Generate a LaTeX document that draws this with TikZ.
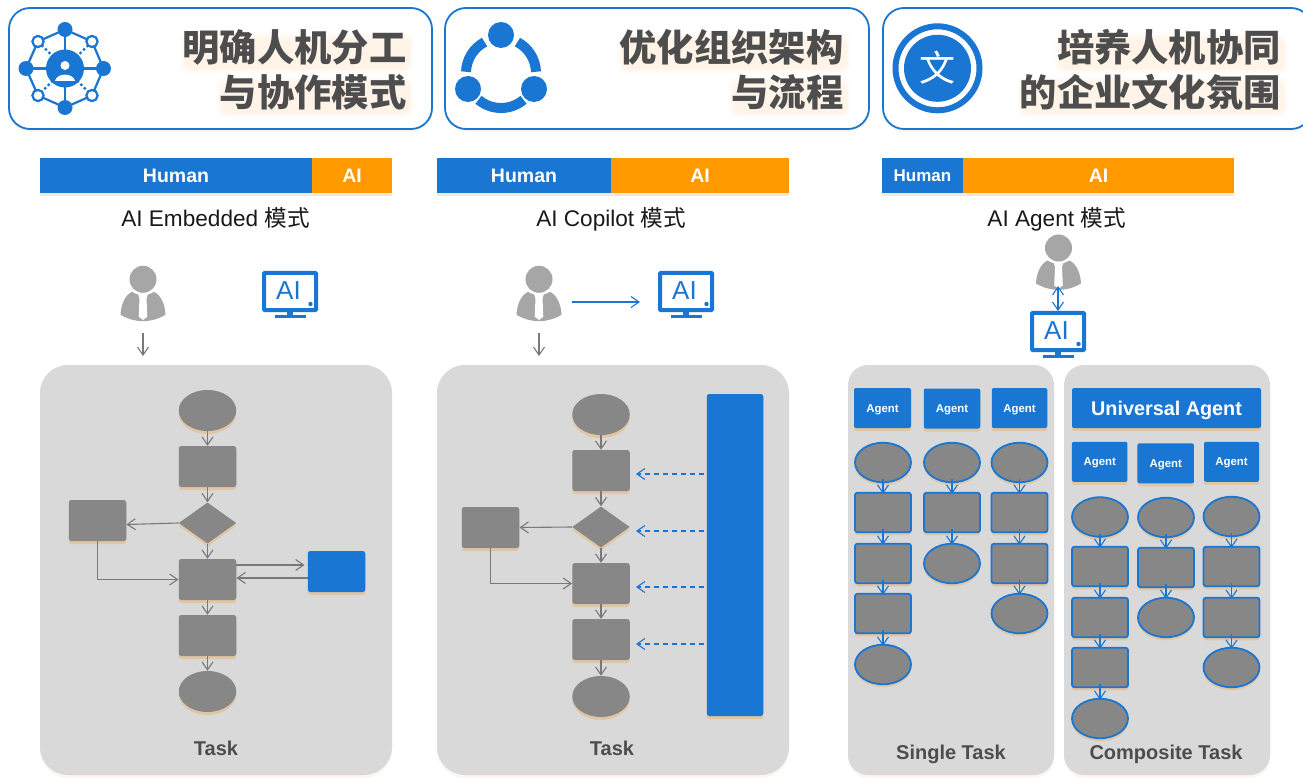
\documentclass[tikz,border=0pt]{standalone}
\usepackage{fontspec}
\setmainfont{Liberation Sans}
\newfontfamily\cjk{Noto Sans CJK SC}
\usetikzlibrary{arrows.meta,shapes.geometric,shadows,calc}
\definecolor{mblue}{HTML}{1976D2}
\definecolor{morange}{HTML}{FF9900}
\definecolor{mgrey}{HTML}{878787}
\definecolor{mpanel}{HTML}{D9D9D9}
\definecolor{mperson}{HTML}{A6A6A6}
\definecolor{mtext}{HTML}{4D4D4D}
\definecolor{mshadow}{HTML}{E8B878}
\newcommand{\fs}[1]{\fontsize{#1}{#1}\selectfont}
\newcommand{\softglow}[4]{%
  \fill[glow] (#1-3,#2-3) rectangle (#3+3,#4+5);
  \fill[glow] (#1,#2) rectangle (#3+1,#4+3);
  \fill[glow] (#1+2,#2+3) rectangle (#3,#4+1);
}
\tikzset{
  softshadow/.style={drop shadow={shadow xshift=0pt,shadow yshift=-3pt,fill=mshadow,opacity=.55}},
  faintshadow/.style={drop shadow={shadow xshift=0pt,shadow yshift=-3pt,fill=mshadow,opacity=.12}},
  titlebox/.style={draw=mblue,line width=1.8pt,fill=white,rounded corners=21pt,inner sep=0pt,faintshadow},
  titletext/.style={anchor=east,inner sep=0pt,text=mtext,font=\cjk\bfseries\fs{37.3}},
  glow/.style={fill=morange,opacity=.03,rounded corners=8pt},
  latin/.style={text height=#1,text depth=0pt,inner sep=0pt},
  barbox/.style={latin=14pt,text=white,font=\bfseries\fs{19.5},minimum height=35pt,drop shadow={shadow xshift=0pt,shadow yshift=-3pt,fill=mshadow,opacity=.3}},
  modelabel/.style={latin=16.3pt,font=\fs{22.6},text=black!90},
  panel/.style={fill=mpanel,faintshadow},
  flowrect/.style={fill=mgrey,rounded corners=2.5pt,minimum width=57.5pt,minimum height=41pt,inner sep=0pt,softshadow},
  flowell/.style={ellipse,fill=mgrey,minimum width=57.5pt,minimum height=41pt,inner sep=0pt,softshadow},
  flowdia/.style={diamond,fill=mgrey,minimum width=57.5pt,minimum height=41pt,inner sep=0pt,softshadow},
  bluerect/.style={flowrect,fill=mblue},
  olrect/.style={flowrect,draw=mblue,line width=1.8pt,minimum width=56pt,minimum height=39.5pt},
  olell/.style={flowell,draw=mblue,line width=1.8pt,minimum width=56pt,minimum height=39.5pt},
  agentbox/.style={latin=8.2pt,fill=mblue,rounded corners=2pt,minimum height=40pt,text=white,font=\bfseries\fs{11.4},softshadow},
  panellabel/.style={latin=14.4pt,text=mtext,font=\bfseries\fs{20}},
  garrow/.style={draw=gray!95!black,line width=1.1pt,-{Straight Barb[length=8pt,width=11pt,line width=1.1pt]}},
  barrow/.style={draw=mblue,line width=1.1pt,-{Straight Barb[length=8pt,width=11pt,line width=1.1pt]}},
  bdash/.style={barrow,line width=1.4pt,dash pattern=on 5pt off 4pt},
  bdouble/.style={draw=mblue,line width=1.1pt,{Straight Barb[length=8pt,width=11pt,line width=1.1pt]}-{Straight Barb[length=8pt,width=11pt,line width=1.1pt]}},
  flowb/.style={barrow,shorten <=-4pt,shorten >=-2pt},
  personicon/.pic={
    \fill[mperson] (-11,12.5) .. controls (-18,16) and (-22,25) .. (-22.5,35.5)
       .. controls (-8,44) and (8,44) .. (22.5,35.5)
       .. controls (22,25) and (18,16) .. (11,12.5)
       .. controls (4,17) and (-4,17) .. cycle;
    \fill[white] (0,0) circle[radius=15];
    \fill[mperson] (0,0) circle[radius=13.5];
    \fill[white] (-5,14.5) -- (5,14.5) -- (3.5,19) -- (4.3,37.4) -- (0,40.7) -- (-4.3,37.4) -- (-3.5,19) -- cycle;
  },
  monitoricon/.pic={
    \draw[mblue,line width=4pt,rounded corners=1pt,fill=white] (-26,-18.7) rectangle (26,18.7);
    \fill[mblue] (-3,20) rectangle (3,25);
    \draw[mblue,line width=2.6pt] (-15.5,25) -- (15.5,25);
    \fill[mblue] (20.5,12.5) circle[radius=2.2];
    \node[inner sep=0pt,text=mblue,font=\fs{26}] (ai) at (-1.5,-0.5) {AI};
  },
}
\begin{document}
\begin{tikzpicture}[x=1pt,y=-1pt]
\useasboundingbox (0,0) rectangle (1303,778);
\clip (0,0) rectangle (1303,778);
\fill[white] (0,0) rectangle (1303,778);

% title boxes
\draw[titlebox] (9,8) rectangle (432,129);
\draw[titlebox] (445,8) rectangle (869,129);
\draw[titlebox] (883,8) rectangle (1312,129);

\softglow{183}{36}{410}{68}
\softglow{220}{80}{410}{112}
\softglow{620}{36}{847}{68}
\softglow{732}{80}{847}{112}
\softglow{1058}{36}{1284}{68}
\softglow{1020}{80}{1284}{112}
\node[titletext] (t1a) at (406.5,47) {明确人机分工};
\node[titletext] (t1b) at (406.5,92) {与协作模式};
\node[titletext] (t2a) at (843.5,47) {优化组织架构};
\node[titletext] (t2b) at (843.5,92) {与流程};
\node[titletext] (t3a) at (1281,47) {培养人机协同};
\node[titletext] (t3b) at (1281,92) {的企业文化氛围};

% icon 1
\begin{scope}[shift={(65,68.5)}]
  \draw[mblue,line width=2.2pt] (0,-39) -- (27,-27) -- (38.5,0) -- (27,27) -- (0,39) -- (-27,27) -- (-39,0) -- (-27,-27) -- cycle;
  \draw[mblue,line width=2.2pt] (0,-39) -- (0,39) (-39,0) -- (38.5,0);
  \draw[mblue,line width=2.2pt,dash pattern=on 2.5pt off 2.5pt] (-27,-27) -- (27,27) (27,-27) -- (-27,27);
  \fill[mblue] (0,0) circle[radius=19];
  \fill[white] (0,-3) circle[radius=4.5];
  \fill[white] (-10,12.5) .. controls (-8,4) and (8,4) .. (10,12.5) -- cycle;
  \foreach \p in {(0,-39),(0,39),(-39,0),(38.5,0)} \fill[mblue] \p circle[radius=7.5];
  \foreach \p in {(-27,-27),(27,-27),(-27,27),(27,27)} \draw[mblue,line width=2.2pt,fill=white] \p circle[radius=5.6];
\end{scope}

% icon 2
\begin{scope}[shift={(501,73)}]
  \draw[mblue,line width=10pt] (182:35) arc[start angle=182,end angle=242,radius=35];
  \draw[mblue,line width=10pt] (298:35) arc[start angle=298,end angle=358,radius=35];
  \draw[mblue,line width=10pt] (50:35) arc[start angle=50,end angle=130,radius=35];
  \fill[mblue] (0,-38) circle[radius=13];
  \fill[mblue] (-33,16) circle[radius=13];
  \fill[mblue] (33,16) circle[radius=13];
\end{scope}

% icon 3
\draw[mblue,line width=6pt] (937.5,68.3) circle[radius=42];
\fill[mblue] (937.5,68.3) circle[radius=33.5];
\node[inner sep=0pt,text=white,font=\cjk\fs{36}] (wen) at (937.5,68) {文};

% bars
\node[barbox,fill=mblue,minimum width=272pt] (h1) at (176,175.5) {Human};
\node[barbox,fill=morange,minimum width=80pt] (a1) at (352,175.5) {AI};
\node[barbox,fill=mblue,minimum width=174pt] (h2) at (524,175.5) {Human};
\node[barbox,fill=morange,minimum width=178pt] (a2) at (700,175.5) {AI};
\node[barbox,fill=mblue,minimum width=81pt,font=\bfseries\fs{17},latin=12.2pt] (h3) at (922.5,175.5) {Human};
\node[barbox,fill=morange,minimum width=271pt] (a3) at (1098.5,175.5) {AI};
\node[modelabel] (m1) at (215.5,218) {AI Embedded {\cjk 模式}};
\node[modelabel] (m2) at (611,218) {AI Copilot {\cjk 模式}};
\node[modelabel] (m3) at (1056.5,218) {AI Agent {\cjk 模式}};

% panels
\path[panel,rounded corners=28pt] (40,365) rectangle (392,775);
\path[panel,rounded corners=28pt] (437,365) rectangle (789,775);
\path[panel,rounded corners=20pt] (848,365) rectangle (1054,775);
\path[panel,rounded corners=20pt] (1064,365) rectangle (1270,775);

% people and monitors
\pic (p1) at (143,279.3) {personicon};
\pic (c1) at (290,291.5) {monitoricon};
\pic (p2) at (539,279.3) {personicon};
\pic (c2) at (686,291.5) {monitoricon};
\pic (p3) at (1058.5,248) {personicon};
\pic (c3) at (1058,331.5) {monitoricon};
\coordinate (p1o) at (143,333);
\coordinate (p1t) at (143,356);
\coordinate (p2o) at (539,333);
\coordinate (p2t) at (539,356);
\coordinate (p2r) at (572,302);
\coordinate (c2l) at (640,302);
\coordinate (p3b) at (1058,286);
\coordinate (c3t) at (1058,311);
\draw[garrow] (p1o) -- (p1t);
\draw[garrow] (p2o) -- (p2t);
\draw[barrow] (p2r) -- (c2l);
\draw[bdouble] (p3b) -- (c3t);

% flow 1
\node[flowell]  (fa1) at (207.5,410.5) {};
\node[flowrect] (fa2) at (207.5,466.5) {};
\node[flowdia]  (fa3) at (207.5,523) {};
\node[flowrect] (fa4) at (97.5,520.5) {};
\node[flowrect] (fa5) at (207.5,579.5) {};
\node[bluerect] (fa6) at (336.5,571.5) {};
\node[flowrect] (fa7) at (207.5,635.5) {};
\node[flowell]  (fa8) at (207.5,691.5) {};
\draw[garrow] (fa1) -- (fa2);
\draw[garrow] (fa2) -- (fa3);
\draw[garrow] (fa3) -- (fa5);
\draw[garrow] (fa5) -- (fa7);
\draw[garrow] (fa7) -- (fa8);
\draw[garrow] (fa3.west) -- ([yshift=-4pt]fa4.east);
\draw[garrow] (fa4.south) |- (fa5.west);
\draw[garrow,shorten >=3pt] ([yshift=14.5pt]fa5.east) -- ([yshift=6.5pt]fa6.west);
\draw[garrow] ([yshift=-6.5pt]fa6.west) -- ([yshift=1.5pt]fa5.east);
\node[panellabel] (tk1) at (216,748) {Task};

% flow 2
\node[flowell]  (fb1) at (601,414.5) {};
\node[flowrect] (fb2) at (601,470.5) {};
\node[flowdia]  (fb3) at (601,527) {};
\node[flowrect] (fb4) at (490.5,527.5) {};
\node[flowrect] (fb5) at (601,583.5) {};
\node[flowrect] (fb6) at (601,639.5) {};
\node[flowell]  (fb7) at (601,696.5) {};
\node[flowrect,fill=mblue,minimum width=56.5pt,minimum height=322pt] (fb8) at (735,555) {};
\draw[garrow] (fb1) -- (fb2);
\draw[garrow] (fb2) -- (fb3);
\draw[garrow] (fb3) -- (fb5);
\draw[garrow] (fb5) -- (fb6);
\draw[garrow] (fb6) -- (fb7);
\draw[garrow] (fb3.west) -- (fb4.east);
\draw[garrow] (fb4.south) |- (fb5.west);
\draw[bdash,shorten <=3pt,shorten >=6pt] ($(fb8.west |- fb2)+(0,3.5)$) -- ($(fb2.east)+(0,3.5)$);
\draw[bdash,shorten <=3pt,shorten >=6pt] ($(fb8.west |- fb3)+(0,4)$) -- ($(fb3.east)+(0,4)$);
\draw[bdash,shorten <=3pt,shorten >=6pt] ($(fb8.west |- fb5)+(0,3.5)$) -- ($(fb5.east)+(0,3.5)$);
\draw[bdash,shorten <=3pt,shorten >=6pt] ($(fb8.west |- fb6)+(0,4.5)$) -- ($(fb6.east)+(0,4.5)$);
\node[panellabel] (tk2) at (612,748) {Task};

% panel 3
\node[agentbox,minimum width=57pt] (g1) at (882.5,408) {Agent};
\node[agentbox,minimum width=56.5pt] (g2) at (952,408.5) {Agent};
\node[agentbox,minimum width=55.5pt] (g3) at (1019.5,408) {Agent};
\node[olell]  (s11) at (883,462.5) {};
\node[olrect] (s12) at (883,512.5) {};
\node[olrect] (s13) at (883,563.5) {};
\node[olrect] (s14) at (883,613.5) {};
\node[olell]  (s15) at (883,664.5) {};
\node[olell]  (s21) at (952,462.5) {};
\node[olrect] (s22) at (952,512.5) {};
\node[olell]  (s23) at (952,563.5) {};
\node[olell]  (s31) at (1019.5,462.5) {};
\node[olrect] (s32) at (1019.5,512.5) {};
\node[olrect] (s33) at (1019.5,563.5) {};
\node[olell]  (s34) at (1019.5,613.5) {};
\foreach \a/\b in {s11/s12,s12/s13,s13/s14,s14/s15,s21/s22,s22/s23,s31/s32,s32/s33,s33/s34}
  \draw[flowb] (\a.south) -- (\b.north);
\node[panellabel] (tk3) at (951,752) {Single Task};

% panel 4
\node[agentbox,minimum width=189pt,font=\bfseries\fs{19.8},latin=14.3pt] (u0) at (1166.5,408) {Universal Agent};
\node[agentbox,minimum width=55.5pt] (u1) at (1099.7,461.8) {Agent};
\node[agentbox,minimum width=56.5pt] (u2) at (1165.7,463.3) {Agent};
\node[agentbox,minimum width=55pt] (u3) at (1231.5,461.8) {Agent};
\node[olell]  (c11) at (1100,517) {};
\node[olrect] (c12) at (1100,566.5) {};
\node[olrect] (c13) at (1100,617.5) {};
\node[olrect] (c14) at (1100,667.5) {};
\node[olell]  (c15) at (1100,718.5) {};
\node[olell]  (c21) at (1166,517.5) {};
\node[olrect] (c22) at (1166,567.5) {};
\node[olell]  (c23) at (1166,617.5) {};
\node[olell]  (c31) at (1231.5,516.5) {};
\node[olrect] (c32) at (1231.5,566.5) {};
\node[olrect] (c33) at (1231.5,617.5) {};
\node[olell]  (c34) at (1231.5,667.5) {};
\foreach \a/\b in {c11/c12,c12/c13,c13/c14,c14/c15,c21/c22,c22/c23,c31/c32,c32/c33,c33/c34}
  \draw[flowb] (\a.south) -- (\b.north);
\node[panellabel] (tk4) at (1166,752) {Composite Task};
\end{tikzpicture}
\end{document}
